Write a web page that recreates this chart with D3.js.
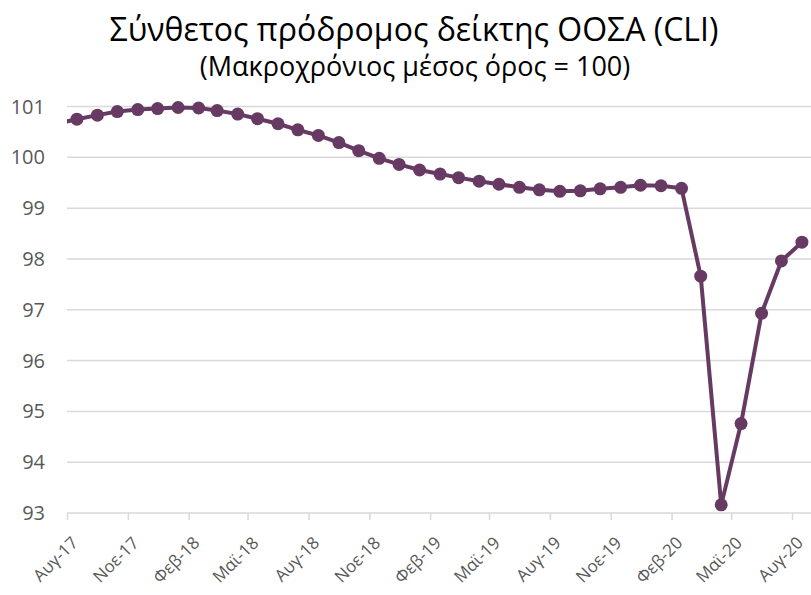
<!DOCTYPE html>
<html>
<head>
<meta charset="utf-8">
<script src="https://cdn.jsdelivr.net/npm/d3@7"></script>
<style>
  body { margin: 0; background: #fff; }
  text { font-family: "Open Sans", "Noto Sans", sans-serif; }
</style>
</head>
<body>
<script>
// Monthly CLI values, Jul-17 .. Aug-20 (Jul-17 is only partly visible, clipped at the axis)
const months = [
  "2017-07", "2017-08", "2017-09", "2017-10", "2017-11", "2017-12",
  "2018-01", "2018-02", "2018-03", "2018-04", "2018-05", "2018-06",
  "2018-07", "2018-08", "2018-09", "2018-10", "2018-11", "2018-12",
  "2019-01", "2019-02", "2019-03", "2019-04", "2019-05", "2019-06",
  "2019-07", "2019-08", "2019-09", "2019-10", "2019-11", "2019-12",
  "2020-01", "2020-02", "2020-03", "2020-04", "2020-05", "2020-06",
  "2020-07", "2020-08"
];
const cliValues = [
  100.66, 100.75, 100.83, 100.90, 100.94, 100.96,
  100.98, 100.97, 100.92, 100.85, 100.76, 100.66,
  100.54, 100.43, 100.29, 100.13, 99.98, 99.86,
  99.75, 99.67, 99.60, 99.53, 99.47, 99.41,
  99.36, 99.33, 99.34, 99.38, 99.41, 99.45,
  99.44, 99.39, 97.66, 93.16, 94.76, 96.93,
  97.96, 98.33
];
const yTicks = [93, 94, 95, 96, 97, 98, 99, 100, 101];
const monthNames = ["Ιαν", "Φεβ", "Μαρ", "Απρ", "Μαϊ", "Ιουν", "Ιουλ", "Αυγ", "Σεπ", "Οκτ", "Νοε", "Δεκ"];

const W = 811, H = 595;
const margin = { top: 106.5, right: 0, bottom: 82, left: 67 };
const width = W - margin.left - margin.right;
const height = H - margin.top - margin.bottom;

const svg = d3.select("body").append("svg")
  .attr("width", W)
  .attr("height", H);

// Title
svg.append("text")
  .attr("x", 414).attr("y", 41)
  .attr("text-anchor", "middle")
  .attr("font-size", 32)
  .attr("fill", "#000")
  .text("Σύνθετος πρόδρομος δείκτης ΟΟΣΑ (CLI)");
svg.append("text")
  .attr("x", 415).attr("y", 76)
  .attr("text-anchor", "middle")
  .attr("font-size", 27)
  .attr("fill", "#000")
  .text("(Μακροχρόνιος μέσος όρος = 100)");

const g = svg.append("g")
  .attr("transform", "translate(" + margin.left + "," + margin.top + ")");

const parse = d3.timeParse("%Y-%m-%d");
const data = months.map((m, i) => ({ date: parse(m + "-16"), value: cliValues[i] }));

const x = d3.scaleTime()
  .domain([parse("2017-08-01"), parse("2020-08-01")])
  .range([0, 725]);

const y = d3.scaleLinear()
  .domain([93, 101])
  .range([height, 0]);

// Gridlines
g.selectAll(".grid")
  .data(yTicks.slice(1))
  .enter().append("line")
  .attr("class", "grid")
  .attr("x1", 0).attr("x2", width)
  .attr("y1", d => y(d)).attr("y2", d => y(d))
  .attr("stroke", "#d9d9d9")
  .attr("stroke-width", 1.5);

// Y labels
g.selectAll(".ylab")
  .data(yTicks)
  .enter().append("text")
  .attr("class", "ylab")
  .attr("x", -22)
  .attr("y", d => y(d))
  .attr("dy", "0.35em")
  .attr("text-anchor", "end")
  .attr("font-size", 20)
  .attr("fill", "#595959")
  .text(d => d);

// X axis, a tick every 3 months from Aug-17
const tickDates = d3.timeMonth.range(parse("2017-08-01"), parse("2020-08-02"), 3);

const xAxis = g.append("g")
  .attr("transform", "translate(0," + height + ")")
  .call(d3.axisBottom(x).tickValues(tickDates).tickSize(7).tickFormat(""));
xAxis.select(".domain").attr("stroke", "#d9d9d9").attr("stroke-width", 1.5)
  .attr("d", "M0,0H" + width);
xAxis.selectAll(".tick line").attr("stroke", "#d9d9d9").attr("stroke-width", 1.5);

// month labels, rotated -45
g.selectAll(".xlab")
  .data(tickDates)
  .enter().append("text")
  .attr("class", "xlab")
  .attr("transform", d => "translate(" + (x(d) + 12) + "," + (height + 31) + ") rotate(-45)")
  .attr("text-anchor", "end")
  .attr("font-size", 17)
  .attr("fill", "#595959")
  .text(d => monthNames[d.getMonth()] + "-" + d3.timeFormat("%y")(d));

// Clip line to plot area
svg.append("clipPath").attr("id", "plot")
  .append("rect")
  .attr("x", 0).attr("y", -20)
  .attr("width", width).attr("height", height + 40);

const line = d3.line()
  .x(d => x(d.date))
  .y(d => y(d.value));

const color = "#673a63";
const plot = g.append("g").attr("clip-path", "url(#plot)");

plot.append("path")
  .datum(data)
  .attr("fill", "none")
  .attr("stroke", color)
  .attr("stroke-width", 4)
  .attr("stroke-linejoin", "round")
  .attr("d", line);

plot.selectAll(".dot")
  .data(data.slice(1))
  .enter().append("circle")
  .attr("class", "dot")
  .attr("cx", d => x(d.date))
  .attr("cy", d => y(d.value))
  .attr("r", 6.5)
  .attr("fill", color);
</script>
</body>
</html>
